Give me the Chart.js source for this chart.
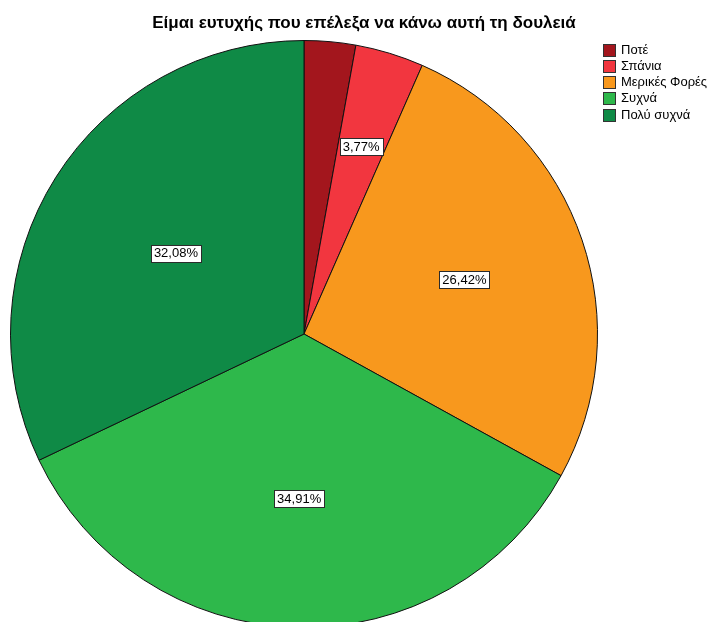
<!DOCTYPE html>
<html>
<head>
<meta charset="utf-8">
<script src="https://cdn.jsdelivr.net/npm/chart.js@4/dist/chart.umd.min.js"></script>
<style>
  html, body { margin: 0; padding: 0; background: #ffffff; overflow: hidden; }
  #wrap { position: relative; width: 709px; height: 680px; }
</style>
</head>
<body>
<div id="wrap"><canvas id="pie"></canvas></div>
<script>
// Answers to "Είμαι ευτυχής που επέλεξα να κάνω αυτή τη δουλειά"
const chartTitle = 'Είμαι ευτυχής που επέλεξα να κάνω αυτή τη δουλειά';
const categories = ['Ποτέ', 'Σπάνια', 'Μερικές Φορές', 'Συχνά', 'Πολύ συχνά'];
const percentages = [2.83, 3.77, 26.42, 34.91, 32.08];
const sliceColors = ['#A3161D', '#F2363F', '#F8981D', '#2EB84B', '#0F8A46'];

const FONT = '"Liberation Sans", Arial, sans-serif';

// Percent labels in white boxes, placed along each slice's mid-angle
const percentBoxes = {
  id: 'percentBoxes',
  afterDatasetsDraw(chart, args, opts) {
    const ctx = chart.ctx;
    const meta = chart.getDatasetMeta(0);
    ctx.save();
    ctx.font = opts.fontSize + 'px ' + FONT;
    ctx.textAlign = 'center';
    ctx.textBaseline = 'middle';
    meta.data.forEach((arc, i) => {
      const v = chart.data.datasets[0].data[i];
      if (v < opts.minValue) return;
      const p = arc.getProps(['x', 'y', 'startAngle', 'endAngle', 'outerRadius'], true);
      const mid = (p.startAngle + p.endAngle) / 2;
      const r = p.outerRadius * opts.radiusFactor[i];
      const cx = p.x + Math.cos(mid) * r;
      const cy = p.y + Math.sin(mid) * r;
      const text = v.toFixed(2).replace('.', ',') + '%';
      const w = ctx.measureText(text).width + 6;
      const h = opts.fontSize + 4;
      const bx = Math.round(cx - w / 2) + 0.5;
      const by = Math.round(cy - h / 2) + 0.5;
      ctx.fillStyle = '#ffffff';
      ctx.fillRect(bx, by, Math.round(w), h);
      ctx.strokeStyle = '#2b2b2b';
      ctx.lineWidth = 1;
      ctx.strokeRect(bx, by, Math.round(w), h);
      ctx.fillStyle = '#000000';
      ctx.fillText(text, cx, cy + 0.5);
    });
    ctx.restore();
  }
};

// Title and legend boxes at the top right
const frameText = {
  id: 'frameText',
  afterDraw(chart, args, opts) {
    const ctx = chart.ctx;
    ctx.save();
    ctx.fillStyle = '#000000';
    ctx.font = 'bold 17px ' + FONT;
    ctx.textAlign = 'center';
    ctx.textBaseline = 'alphabetic';
    ctx.fillText(chartTitle, opts.titleX, opts.titleY);

    ctx.font = opts.legendFont + 'px ' + FONT;
    ctx.textAlign = 'left';
    ctx.textBaseline = 'middle';
    const colors = chart.data.datasets[0].backgroundColor;
    chart.data.labels.forEach((lab, i) => {
      const cy = opts.legendY + i * opts.legendStep;
      const s = opts.boxSize;
      ctx.fillStyle = colors[i];
      ctx.fillRect(opts.legendX, Math.round(cy - s / 2), s, s);
      ctx.strokeStyle = '#333333';
      ctx.lineWidth = 1;
      ctx.strokeRect(opts.legendX + 0.5, Math.round(cy - s / 2) + 0.5, s - 1, s - 1);
      ctx.fillStyle = '#000000';
      ctx.fillText(lab, opts.legendX + s + 5, cy);
    });
    ctx.restore();
  }
};

new Chart(document.getElementById('pie'), {
  type: 'pie',
  data: {
    labels: categories,
    datasets: [{
      data: percentages,
      backgroundColor: sliceColors,
      borderColor: '#111111',
      borderWidth: 1,
      borderAlign: 'center'
    }]
  },
  options: {
    responsive: true,
    maintainAspectRatio: false,
    animation: false,
    events: [],
    layout: { padding: { top: 40, left: 10, right: 111, bottom: 52 } },
    plugins: {
      legend: { display: false },
      title: { display: false },
      tooltip: { enabled: false },
      percentBoxes: { fontSize: 13, minValue: 3, radiusFactor: [0.6, 0.667, 0.577, 0.561, 0.516] },
      frameText: { titleX: 364, titleY: 28, legendX: 603, legendY: 50, legendStep: 16.25, boxSize: 13, legendFont: 13 }
    }
  },
  plugins: [percentBoxes, frameText]
});
</script>
</body>
</html>
